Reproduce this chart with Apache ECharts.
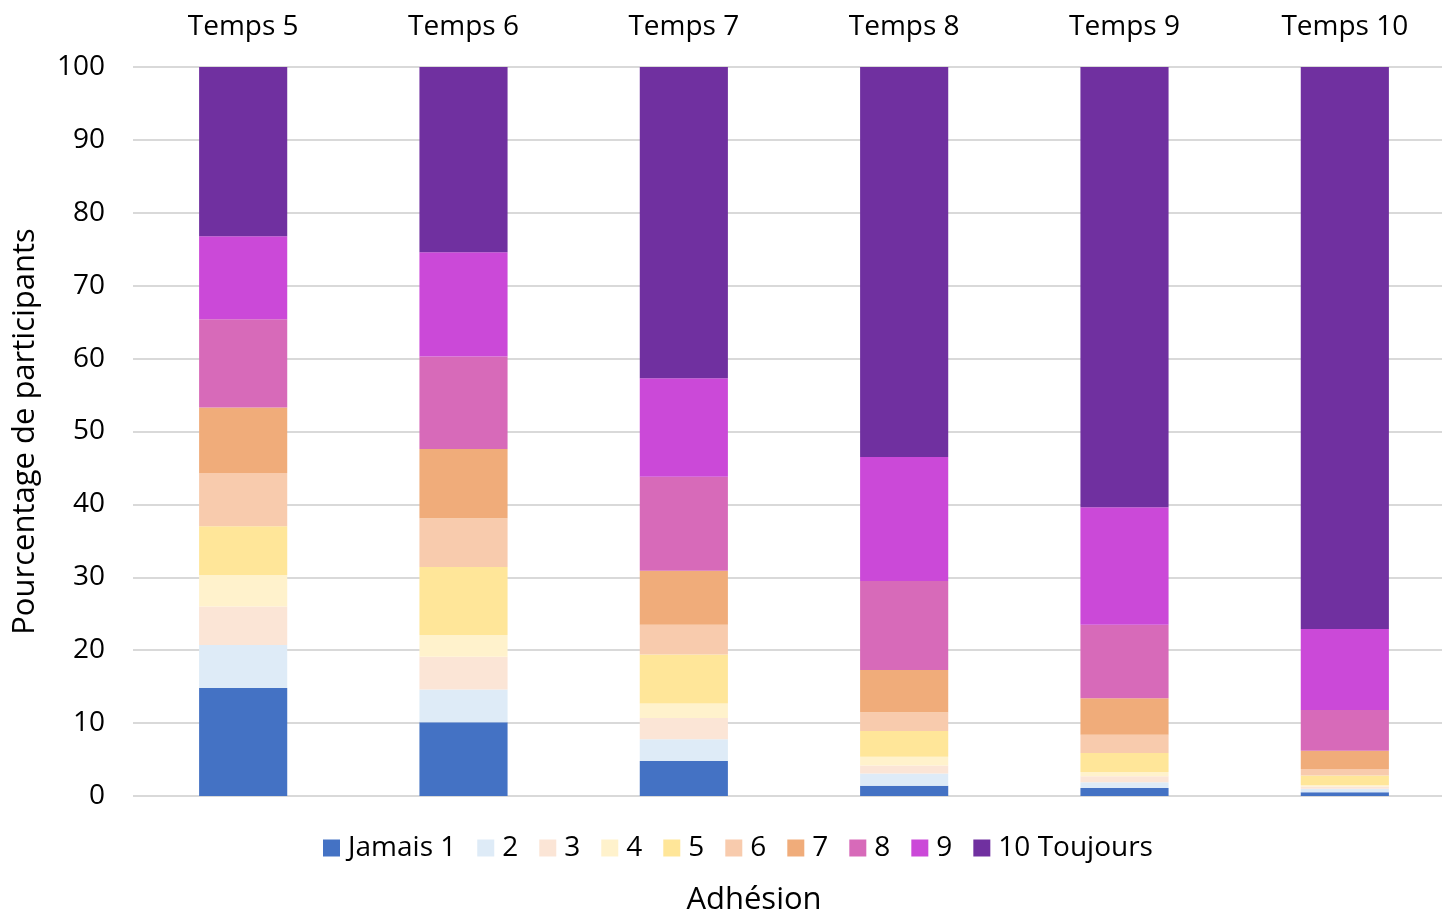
<!DOCTYPE html>
<html>
<head>
<meta charset="utf-8">
<title>Adhésion par temps</title>
<script src="https://cdn.jsdelivr.net/npm/echarts@6/dist/echarts.min.js"></script>
<style>
  html, body { margin: 0; padding: 0; background: #ffffff; overflow: hidden; }
  /* the plot area runs a little past the right edge of the window */
  #chart { width: 1460px; height: 914px; }
</style>
</head>
<body>
<div id="chart"></div>
<script>
// Time points shown along the top axis
const categories = ['Temps 5', 'Temps 6', 'Temps 7', 'Temps 8', 'Temps 9', 'Temps 10'];

// Adherence levels (legend order, bottom of stack first)
const levels = ['Jamais 1', '2', '3', '4', '5', '6', '7', '8', '9', '10 Toujours'];

// Percentage of participants per level, one value per time point
const jamais1   = [14.8, 10.1, 4.8, 1.4, 1.1, 0.5];
const niveau2   = [5.9, 4.5, 3.0, 1.7, 0.8, 0.5];
const niveau3   = [5.3, 4.5, 2.9, 1.1, 0.8, 0.3];
const niveau4   = [4.3, 3.0, 2.0, 1.2, 0.6, 0.2];
const niveau5   = [6.7, 9.3, 6.7, 3.5, 2.6, 1.3];
const niveau6   = [7.3, 6.7, 4.1, 2.6, 2.5, 0.9];
const niveau7   = [9.0, 9.5, 7.4, 5.8, 5.0, 2.5];
const niveau8   = [12.1, 12.7, 12.9, 12.2, 10.1, 5.6];
const niveau9   = [11.4, 14.3, 13.5, 17.0, 16.1, 11.1];
const toujours10 = [23.2, 25.4, 42.7, 53.5, 60.4, 77.1];

// Y axis tick settings
const yMin = 0;
const yMax = 100;
const yStep = 10;

const seriesValues = [jamais1, niveau2, niveau3, niveau4, niveau5, niveau6, niveau7, niveau8, niveau9, toujours10];
const colors = ['#4472C4', '#DEEBF7', '#FBE5D6', '#FFF2CC', '#FFE699', '#F8CBAD', '#F0AC7A', '#D76AB9', '#CB49D8', '#7030A0'];

const font = '"Open Sans", "Noto Sans", sans-serif';

const chart = echarts.init(document.getElementById('chart'), null, { renderer: 'canvas' });

chart.setOption({
  animation: false,
  backgroundColor: '#ffffff',
  color: colors,
  grid: { left: 133, width: 1322, top: 67, height: 729, containLabel: false },
  legend: {
    data: levels,
    top: 829,
    left: 318,
    itemWidth: 17,
    itemHeight: 17,
    itemGap: 21,
    icon: 'rect',
    textStyle: { fontFamily: font, fontSize: 28, color: '#000000', padding: [0, 0, 0, 3] }
  },
  xAxis: {
    type: 'category',
    position: 'top',
    data: categories,
    axisLine: { show: false },
    axisTick: { show: false },
    axisLabel: { fontFamily: font, fontSize: 28, color: '#000000', margin: 26 }
  },
  yAxis: {
    type: 'value',
    min: yMin,
    max: yMax,
    interval: yStep,
    axisLine: { show: false },
    axisTick: { show: false },
    splitLine: { lineStyle: { color: '#D9D9D9', width: 2 } },
    axisLabel: { fontFamily: font, fontSize: 28, color: '#000000', margin: 28 },
    name: 'Pourcentage de participants',
    nameLocation: 'middle',
    nameGap: 92,
    nameRotate: 90,
    nameTextStyle: { fontFamily: font, fontSize: 31, color: '#000000' }
  },
  graphic: [{
    type: 'text',
    x: 754,
    y: 900,
    style: {
      text: 'Adhésion',
      fontFamily: font,
      fontSize: 31,
      fill: '#000000',
      textAlign: 'center',
      textVerticalAlign: 'middle'
    }
  }],
  series: levels.map((name, i) => ({
    name: name,
    type: 'bar',
    stack: 'total',
    barWidth: '40%',
    data: seriesValues[i],
    itemStyle: { color: colors[i] }
  }))
});
</script>
</body>
</html>
